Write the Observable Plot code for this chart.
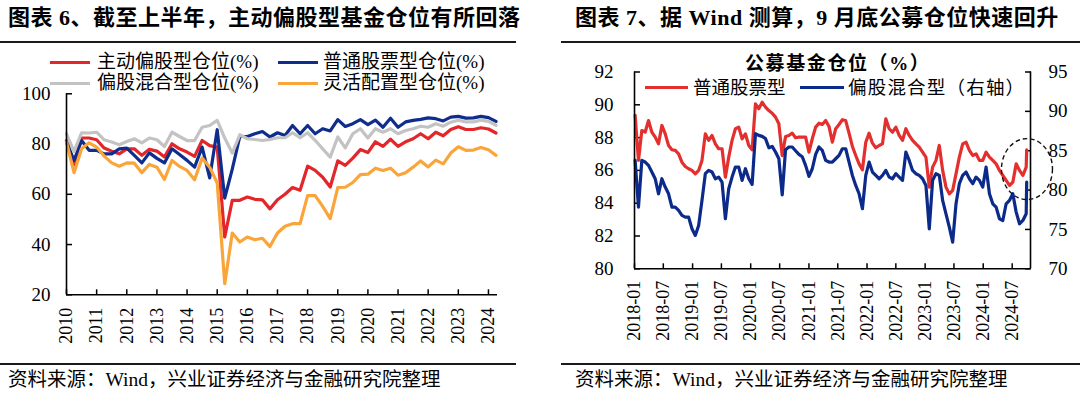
<!DOCTYPE html>
<html><head><meta charset="utf-8">
<script src="https://cdn.jsdelivr.net/npm/d3@7"></script>
<script src="https://cdn.jsdelivr.net/npm/@observablehq/plot@0.6"></script>
<style>
html,body{margin:0;padding:0;background:#fff;}
body{width:1080px;height:394px;position:relative;overflow:hidden;font-family:"Liberation Serif","Noto Sans CJK SC",serif;color:#000;}
.abs{position:absolute;white-space:nowrap;}
.ttl{font-weight:bold;font-size:22px;line-height:26px;letter-spacing:0.5px;}
.rule{position:absolute;height:2px;background:#1a1a1a;}
.src{font-size:19.5px;line-height:22px;}
.leg{font-size:19px;line-height:24px;height:24px;}
.sw{position:absolute;height:3px;}
svg{position:absolute;left:0;top:0;}
</style></head><body>
<script>
// ---------------- Left chart data (quarterly, 2010Q1 .. 2024Q2) ----------------
const leftStartYear = 2010;
const leftSeriesNames = ["主动偏股型仓位(%)", "普通股票型仓位(%)", "偏股混合型仓位(%)", "灵活配置型仓位(%)"];
const leftColors = ["#E3262A", "#0F2D8C", "#C3C3C3", "#F9A53A"];
const activeEquity = [81.4,71.8,82.4,82.4,81.7,78.4,77.1,76.1,78.1,78.1,75.5,77.9,77.2,74.8,80.1,78.1,76.8,75.1,81.4,79.4,78.8,43.0,57.6,57.6,58.9,58.0,57.8,54.2,57.8,60.0,62.7,61.6,71.2,69.5,66.8,62.9,73.3,71.5,74.4,77.8,76.6,80.9,79.1,81.9,79.1,80.9,82.1,84.1,82.1,84.7,83.3,85.8,86.9,85.8,85.8,86.5,86.0,84.4];
const stockFund = [80.8,73.5,81.4,77.5,77.5,76.1,76.1,78.1,78.4,75.5,72.5,76.5,74.3,72.5,78.1,75.8,73.5,70.8,78.8,66.5,85.7,58.5,70.0,83.0,83.0,84.1,85.0,82.8,84.5,83.4,87.4,84.1,87.4,84.1,86.1,85.2,89.7,87.0,88.1,89.7,87.7,89.5,86.7,90.3,86.7,88.8,89.4,89.8,90.4,90.1,89.2,90.7,91.0,90.3,90.4,91.0,90.5,89.0];
const mixedEquity = [84.1,77.0,84.5,84.4,84.7,81.7,80.8,79.7,81.0,82.1,80.5,82.4,81.7,79.0,84.7,83.0,81.4,81.4,86.7,87.4,89.4,82.4,76.4,83.7,82.1,81.8,81.4,81.8,82.5,82.5,84.5,82.5,84.5,81.5,78.1,74.8,82.8,78.5,84.1,86.1,82.4,86.1,84.7,86.1,84.1,85.4,86.1,87.1,86.7,88.1,87.1,88.7,89.5,88.8,88.8,89.5,89.0,87.5];
const flexible = [80.8,68.6,78.1,80.5,78.8,75.2,72.5,71.2,72.5,72.4,68.6,71.9,70.8,65.9,73.5,71.1,69.5,65.8,74.4,70.8,64.5,24.4,44.6,41.0,43.0,41.9,42.5,39.2,44.6,47.3,48.3,48.3,59.5,59.5,55.2,50.3,62.7,62.8,64.7,67.8,68.0,70.4,69.5,70.4,67.6,68.6,70.8,73.3,70.9,73.6,72.1,76.4,78.9,77.5,77.6,78.6,77.7,75.5];
const leftYearTicks = [2010,2011,2012,2013,2014,2015,2016,2017,2018,2019,2020,2021,2022,2023,2024];
const leftValueTicks = [20,40,60,80,100];

// ---------------- Right chart data (weekly samples) ----------------
const rightDates = ["2018-01-05","2018-01-26","2018-02-16","2018-03-09","2018-03-30","2018-04-20","2018-05-11","2018-06-01","2018-06-22","2018-07-13","2018-08-03","2018-08-24","2018-09-14","2018-10-05","2018-10-26","2018-11-16","2018-12-07","2018-12-28",
"2019-01-18","2019-02-08","2019-03-01","2019-03-22","2019-04-12","2019-05-03","2019-05-24","2019-06-14","2019-07-05","2019-07-26","2019-08-16","2019-09-06","2019-09-27","2019-10-18","2019-11-08","2019-11-29","2019-12-20",
"2020-01-10","2020-01-31","2020-02-21","2020-03-13","2020-04-03","2020-04-24","2020-05-15","2020-06-05","2020-06-26","2020-07-17","2020-08-07","2020-08-28","2020-09-18","2020-10-09","2020-10-30","2020-11-20","2020-12-11",
"2021-01-01","2021-01-22","2021-02-12","2021-03-05","2021-03-26","2021-04-16","2021-05-07","2021-05-28","2021-06-18","2021-07-09","2021-07-30","2021-08-20","2021-09-10","2021-10-01","2021-10-22","2021-11-12","2021-12-03","2021-12-24",
"2022-01-14","2022-02-04","2022-02-25","2022-03-18","2022-04-08","2022-04-29","2022-05-20","2022-06-10","2022-07-01","2022-07-22","2022-08-12","2022-09-02","2022-09-23","2022-10-14","2022-11-04","2022-11-25","2022-12-16",
"2023-01-06","2023-01-27","2023-02-17","2023-03-10","2023-03-31","2023-04-21","2023-05-12","2023-06-02","2023-06-23","2023-07-14","2023-08-04","2023-08-25","2023-09-15","2023-10-06","2023-10-27","2023-11-17","2023-12-08","2023-12-29",
"2024-01-19","2024-02-09","2024-03-01","2024-03-22","2024-04-12","2024-05-03","2024-05-24","2024-06-14","2024-07-05","2024-07-26","2024-08-16","2024-09-06","2024-09-27","2024-09-30"];
const commonStock = [89.35,86.61,88.43,88.33,89.04,88.33,88.03,87.62,88.74,88.23,87.52,87.26,87.22,87.01,86.50,86.24,86.10,86.00,
85.79,86.00,86.61,88.23,87.83,88.13,87.62,87.32,87.32,85.59,86.81,87.83,88.54,88.64,87.93,88.23,87.52,
87.26,90.06,89.76,90.16,89.86,89.65,89.49,89.25,88.84,86.90,88.07,88.13,88.27,87.99,88.03,88.03,88.03,
87.11,87.93,88.64,88.88,88.80,89.04,88.68,87.72,88.54,88.80,89.09,89.04,88.27,87.46,86.91,86.40,86.04,87.72,
88.27,87.66,87.38,87.52,87.62,89.15,88.54,88.33,88.64,88.13,87.83,88.54,88.13,87.83,87.62,87.42,87.11,
86.81,84.98,86.20,86.61,87.52,86.00,84.98,84.57,84.78,85.79,86.81,87.62,87.72,87.22,86.91,87.01,86.61,86.61,
87.11,86.81,86.61,86.40,86.00,85.69,85.39,85.08,85.28,86.40,86.00,85.69,86.20,87.26];
const mixedStock = [83.77,77.84,83.77,83.56,83.14,82.29,81.44,79.53,81.44,80.38,79.53,77.84,77.84,77.42,76.78,76.57,76.57,75.08,
74.24,75.51,78.69,82.08,82.50,82.29,81.44,81.65,81.02,76.36,80.17,81.65,82.92,82.92,81.23,82.71,81.44,
80.72,87.16,86.95,86.82,86.53,85.38,85.55,84.83,83.98,79.40,85.13,85.47,85.47,85.00,84.53,84.24,83.14,
81.74,82.71,84.53,85.47,85.04,83.77,83.56,83.56,83.98,84.41,85.25,85.25,83.56,81.86,80.59,79.53,77.63,81.86,
83.56,82.29,81.86,81.44,81.86,82.50,81.65,81.44,82.08,81.65,81.23,84.83,83.77,82.50,82.08,81.86,81.44,
80.59,75.08,81.23,82.08,81.86,78.69,76.99,75.30,73.39,78.26,80.81,81.86,82.29,81.44,80.81,81.65,81.23,80.38,
82.92,79.53,78.26,77.84,76.36,76.14,78.26,78.69,79.53,77.20,75.72,76.14,76.99,81.02];
const rightSeriesNames = ["普通股票型", "偏股混合型（右轴）"];
const rightColors = ["#E42F2F", "#0C2A8A"];
const leftAxisTicks = [80,82,84,86,88,90,92];
const rightAxisTicks = [70,75,80,85,90,95];
const highlight = [{date: "2024-10-05", value: 86.05}];

// ---------------- Build ----------------
const FONT = "Liberation Serif, Noto Sans CJK SC, serif";

function el(html){ const d = document.createElement("div"); d.innerHTML = html; return d.firstElementChild; }

// Left chart
const leftRows = [];
[activeEquity, stockFund, mixedEquity, flexible].forEach((arr, s) => {
  arr.forEach((v, i) => leftRows.push({series: leftSeriesNames[s], t: leftStartYear + i / 4, v}));
});

const leftPlot = Plot.plot({
  width: 540, height: 394,
  marginLeft: 66, marginRight: 43, marginTop: 93.3, marginBottom: 99.7,
  style: {background: "transparent", fontFamily: FONT, fontSize: "19px", color: "#000", overflow: "visible"},
  x: {domain: [2010, 2024.3]},
  y: {domain: [20, 100]},
  color: {domain: leftSeriesNames, range: leftColors},
  marks: [
    Plot.axisY(leftValueTicks, {tickSize: -6, tickPadding: 22, fontSize: 19, label: null, strokeWidth: 1.5}),
    Plot.axisX(leftYearTicks, {tickSize: -5, tickPadding: 18, tickRotate: -90, tickFormat: d => String(d), fontSize: 18, label: null, strokeWidth: 1.5}),
    Plot.line(leftRows, {x: "t", y: "v", z: "series", stroke: "series", strokeWidth: 3.2, strokeLinejoin: "round"}),
    Plot.ruleX([2010], {stroke: "#000", strokeWidth: 1.6}),
    Plot.ruleY([20], {stroke: "#000", strokeWidth: 1.6})
  ]
});
leftPlot.style.left = "0px"; leftPlot.style.top = "0px";
document.body.appendChild(leftPlot);

// Right chart
const parse = d3.utcParse("%Y-%m-%d");
const toLeft = v => 80 + (v - 70) * 12 / 25;
const fromLeft = y => Math.round(70 + (y - 80) * 25 / 12);
const rightRows = [];
rightDates.forEach((d, i) => {
  rightRows.push({series: rightSeriesNames[0], date: parse(d), y: commonStock[i]});
});
rightDates.forEach((d, i) => {
  rightRows.push({series: rightSeriesNames[1], date: parse(d), y: toLeft(mixedStock[i])});
});
const xStart = parse("2018-01-01"), xEnd = parse("2024-10-24");
const monthTicks = d3.utcMonth.every(6).range(xStart, parse("2024-08-01"));

const rightPlot = Plot.plot({
  width: 540, height: 394,
  marginLeft: 94, marginRight: 50, marginTop: 71.5, marginBottom: 125.7,
  style: {background: "transparent", fontFamily: FONT, fontSize: "19px", color: "#000", overflow: "visible"},
  x: {type: "utc", domain: [xStart, xEnd]},
  y: {domain: [80, 92]},
  color: {domain: rightSeriesNames, range: rightColors},
  marks: [
    Plot.axisY(leftAxisTicks, {anchor: "left", tickSize: -6, tickPadding: 27, fontSize: 19, label: null, strokeWidth: 1.5}),
    Plot.axisY(rightAxisTicks.map(toLeft), {anchor: "right", tickSize: -6, tickPadding: 24, tickFormat: fromLeft, fontSize: 19, label: null, strokeWidth: 1.5}),
    Plot.axisX(monthTicks, {tickSize: -5, tickPadding: 17, tickRotate: -90, tickFormat: d3.utcFormat("%Y-%m"), fontSize: 18, label: null, strokeWidth: 1.5}),
    Plot.line(rightRows, {x: "date", y: "y", z: "series", stroke: "series", strokeWidth: 3.2, strokeLinejoin: "round"}),
    Plot.ruleX([xStart, xEnd], {stroke: "#000", strokeWidth: 1.6}),
    Plot.ruleY([80], {stroke: "#000", strokeWidth: 1.6}),
    Plot.dot(highlight, {
      x: d => parse(d.date), y: "value", r: 1,
      render(index, scales, values, dims, context, next) {
        const g = d3.create("svg:g");
        for (const i of index) {
          g.append("ellipse").attr("cx", values.x[i]).attr("cy", values.y[i])
            .attr("rx", 25.5).attr("ry", 30.5).attr("fill", "none")
            .attr("stroke", "#111").attr("stroke-width", 1.4).attr("stroke-dasharray", "4.5,3");
        }
        return g.node();
      }
    })
  ]
});
rightPlot.style.left = "540px"; rightPlot.style.top = "0px";
document.body.appendChild(rightPlot);

// Texts
const add = (html) => document.body.appendChild(el(html));
add(`<div class="abs ttl" style="left:8px;top:5px;">图表 6、截至上半年，主动偏股型基金仓位有所回落</div>`);
add(`<div class="abs ttl" style="left:575px;top:5px;">图表 7、据 Wind 测算，9 月底公募仓位快速回升</div>`);
add(`<div class="rule" style="left:0;top:41px;width:516px;"></div>`);
add(`<div class="rule" style="left:561px;top:41px;width:519px;"></div>`);
add(`<div class="rule" style="left:0;top:363px;width:516px;"></div>`);
add(`<div class="rule" style="left:561px;top:363px;width:519px;"></div>`);
add(`<div class="abs src" style="left:8px;top:369px;">资料来源：Wind，兴业证券经济与金融研究院整理</div>`);
add(`<div class="abs src" style="left:575px;top:369px;">资料来源：Wind，兴业证券经济与金融研究院整理</div>`);

// Left legend
const legPos = [[50, 97, 62], [278, 323, 62], [50, 97, 83], [278, 323, 83]];
const legOrder = [0, 1, 2, 3];
legOrder.forEach((s, k) => {
  const [sx, tx, cy] = legPos[k];
  add(`<div class="sw" style="left:${sx}px;top:${cy - 1.5}px;width:40px;background:${leftColors[s]};"></div>`);
  add(`<div class="abs leg" style="left:${tx}px;top:${cy - 12}px;">${leftSeriesNames[s]}</div>`);
});

// Right title + legend
add(`<div class="abs" style="left:745px;top:52px;font-weight:bold;font-size:19px;letter-spacing:1.6px;line-height:24px;">公募基金仓位（%）</div>`);
add(`<div class="sw" style="left:645px;top:86px;width:43px;background:${rightColors[0]};"></div>`);
add(`<div class="abs leg" style="left:693px;top:76px;font-size:18.5px;">${rightSeriesNames[0]}</div>`);
add(`<div class="sw" style="left:800px;top:86px;width:44px;background:${rightColors[1]};"></div>`);
add(`<div class="abs leg" style="left:848px;top:76px;font-size:18.5px;letter-spacing:1.2px;">${rightSeriesNames[1]}</div>`);
</script>
</body></html>
